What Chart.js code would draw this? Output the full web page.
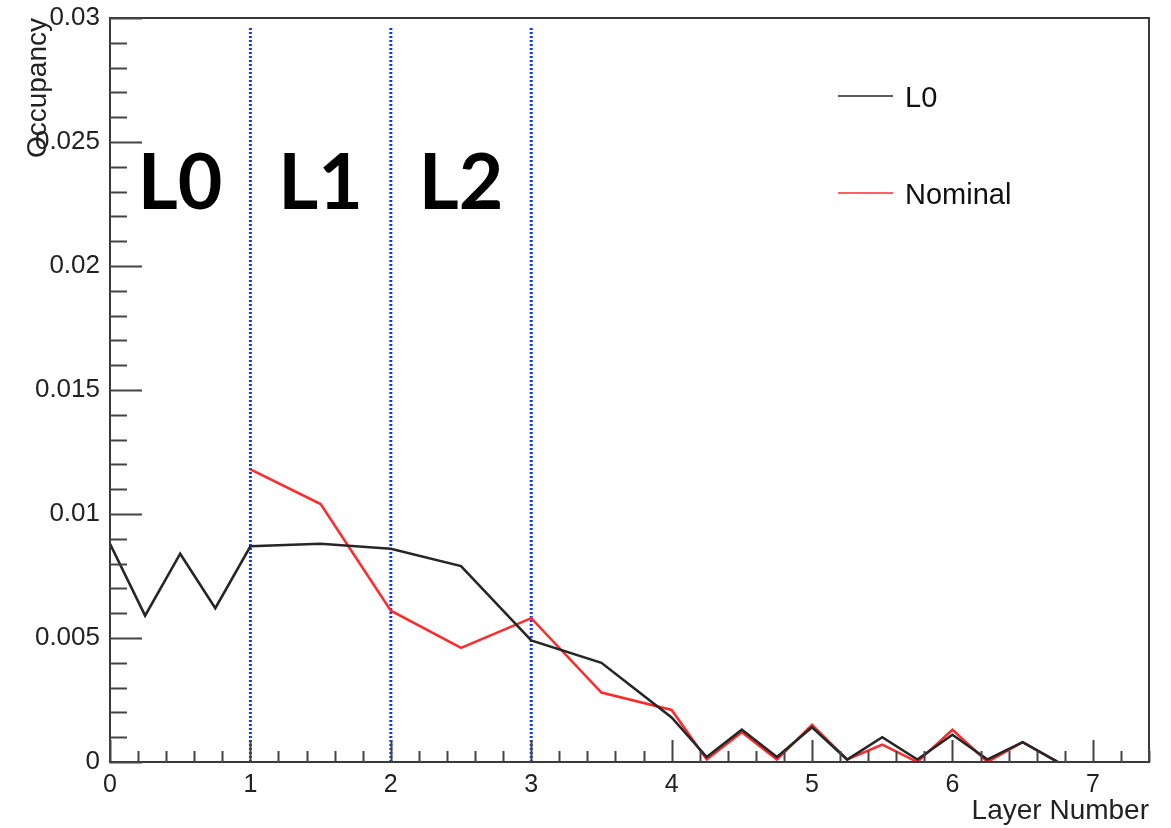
<!DOCTYPE html>
<html lang="en">
<head>
    <meta charset="UTF-8">
    <title>Occupancy vs Layer Number</title>
    <style>
        body {
            margin: 0;
            background-color: #ffffff;
        }
        .chart-container {
            width: 1171px;
            height: 828px;
        }
    </style>
    <script src="https://cdn.jsdelivr.net/npm/chart.js"></script>
</head>
<body>
    <div class="chart-container">
        <canvas id="occupancyChart"></canvas>
    </div>

    <script>
        // values
        const layerNumber = [0, 0.25, 0.5, 0.75, 1, 1.5, 2, 2.5, 3, 3.5, 4, 4.25, 4.5, 4.75, 5, 5.25, 5.5, 5.75, 6, 6.25, 6.5, 6.75];
        const occupancyL0 = [0.0088, 0.0059, 0.0084, 0.0062, 0.0087, 0.0088, 0.0086, 0.0079, 0.0049, 0.0040, 0.0018, 0.0002, 0.0013, 0.0002, 0.0014, 0.0001, 0.0010, 0.0001, 0.0011, 0.0001, 0.0008, 0.0000];
        const occupancyNominal = [null, null, null, null, 0.0118, 0.0104, 0.0061, 0.0046, 0.0058, 0.0028, 0.0021, 0.0001, 0.0012, 0.0001, 0.0015, 0.0001, 0.0007, 0.0000, 0.0013, 0.0000, 0.0008, 0.0000];
        const layerBoundaries = [1, 2, 3];
        const boundaryTop = 0.0296;
        const regionNames = ['L0', 'L1', 'L2'];
        const regionEdges = [0, 1, 2, 3];
        const xTicks = [0, 1, 2, 3, 4, 5, 6, 7];
        const yTicks = [0, 0.005, 0.01, 0.015, 0.02, 0.025, 0.03];

        const toPoints = (xs, ys) => xs.map((x, i) => ({ x: x, y: ys[i] })).filter(p => p.y !== null);

        const textFont = '"Liberation Sans", Arial, sans-serif';

        // ROOT style frame: ticks inside, legend box, region labels
        const rootStyle = {
            id: 'rootStyle',
            afterDatasetsDraw(chart, args, opts) {
                const { ctx, chartArea: a } = chart;
                const x = chart.scales.x, y = chart.scales.y;
                ctx.save();

                // frame
                ctx.strokeStyle = '#3a3a3a';
                ctx.lineWidth = 2;
                ctx.strokeRect(a.left, a.top, a.right - a.left, a.bottom - a.top);

                // y ticks
                let n = Math.round((y.max - y.min) / opts.yMinor);
                ctx.beginPath();
                for (let i = 0; i <= n; i++) {
                    const py = Math.round(y.getPixelForValue(y.min + i * opts.yMinor)) + 0.5;
                    const len = i % 5 === 0 ? 32 : 17;
                    ctx.moveTo(a.left, py);
                    ctx.lineTo(a.left + len, py);
                }
                // x ticks
                n = Math.floor((x.max - x.min) / opts.xMinor + 1e-6);
                for (let i = 0; i <= n; i++) {
                    const px = Math.round(x.getPixelForValue(x.min + i * opts.xMinor)) + 0.5;
                    const len = i % 5 === 0 ? 22 : 11;
                    ctx.moveTo(px, a.bottom);
                    ctx.lineTo(px, a.bottom - len);
                }
                ctx.strokeStyle = '#444';
                ctx.lineWidth = 2;
                ctx.stroke();

                // region labels
                ctx.fillStyle = '#000';
                ctx.font = 'bold 77px Lato, "DejaVu Sans", sans-serif';
                ctx.textAlign = 'center';
                ctx.textBaseline = 'alphabetic';
                regionNames.forEach((name, i) => {
                    const mid = (regionEdges[i] + regionEdges[i + 1]) / 2;
                    ctx.fillText(name, x.getPixelForValue(mid), y.getPixelForValue(opts.regionLabelY));
                });

                // legend
                ctx.font = '29px ' + textFont;
                ctx.textAlign = 'left';
                chart.data.datasets.filter(d => d.inLegend).forEach((d, i) => {
                    const ly = opts.legendTop + i * opts.legendStep;
                    ctx.beginPath();
                    ctx.moveTo(opts.legendLeft, ly);
                    ctx.lineTo(opts.legendLeft + 55, ly);
                    ctx.strokeStyle = d.borderColor;
                    ctx.lineWidth = 1.5;
                    ctx.stroke();
                    ctx.fillStyle = '#111';
                    ctx.fillText(d.label, opts.legendLeft + 67, ly + 11);
                });
                ctx.restore();
            }
        };

        const boundaryLines = layerBoundaries.map(b => ({
            label: '',
            data: [{ x: b, y: 0 }, { x: b, y: boundaryTop }],
            borderColor: '#1236ff',
            borderWidth: 3,
            borderDash: [2, 2],
            pointRadius: 0
        }));

        new Chart(document.getElementById('occupancyChart').getContext('2d'), {
            type: 'line',
            data: {
                datasets: [{
                    label: 'L0',
                    inLegend: true,
                    data: toPoints(layerNumber, occupancyL0),
                    borderColor: '#262626',
                    borderWidth: 2.6,
                    pointRadius: 0,
                    tension: 0
                }, {
                    label: 'Nominal',
                    inLegend: true,
                    data: toPoints(layerNumber, occupancyNominal),
                    borderColor: '#ff2b2b',
                    borderWidth: 2.5,
                    pointRadius: 0,
                    tension: 0
                }].concat(boundaryLines)
            },
            options: {
                responsive: true,
                maintainAspectRatio: false,
                animation: false,
                layout: { padding: { top: 18, right: 22, bottom: 0, left: 0 } },
                plugins: {
                    legend: { display: false },
                    tooltip: { enabled: false },
                    rootStyle: {
                        xMinor: 0.2,
                        yMinor: 0.001,
                        regionLabelY: 0.0223,
                        legendLeft: 838,
                        legendTop: 96,
                        legendStep: 97
                    }
                },
                scales: {
                    x: {
                        type: 'linear',
                        min: 0,
                        max: 7.4,
                        afterBuildTicks: s => { s.ticks = xTicks.map(v => ({ value: v })); },
                        afterFit: s => { s.height = 66; s.paddingLeft = 0; s.paddingRight = 0; },
                        grid: { display: false, drawTicks: false },
                        border: { display: true, color: '#333', width: 2 },
                        ticks: {
                            color: '#222',
                            font: { size: 25, family: textFont },
                            padding: 8,
                            maxRotation: 0,
                            autoSkip: false
                        },
                        title: {
                            display: true,
                            text: 'Layer Number',
                            align: 'end',
                            color: '#222',
                            font: { size: 28, family: textFont },
                            padding: { top: 0, bottom: 0 }
                        }
                    },
                    y: {
                        type: 'linear',
                        min: 0,
                        max: 0.03,
                        afterBuildTicks: s => { s.ticks = yTicks.map(v => ({ value: v })); },
                        afterFit: s => { s.width = 110; s.paddingTop = 0; s.paddingBottom = 0; },
                        grid: { display: false, drawTicks: false },
                        border: { display: true, color: '#333', width: 2 },
                        ticks: {
                            color: '#222',
                            font: { size: 26, family: textFont },
                            padding: 10,
                            callback: v => String(v)
                        },
                        title: {
                            display: true,
                            text: 'Occupancy',
                            align: 'end',
                            color: '#222',
                            font: { size: 28, family: textFont },
                            padding: { top: 21, bottom: 0 }
                        }
                    }
                }
            },
            plugins: [rootStyle]
        });
    </script>
</body>
</html>
